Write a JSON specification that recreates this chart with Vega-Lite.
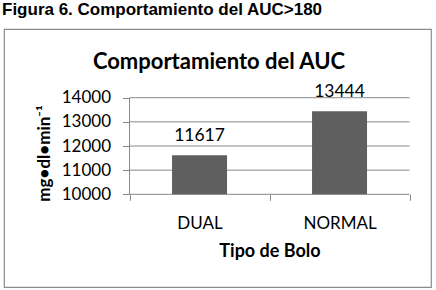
{
  "$schema": "https://vega.github.io/schema/vega-lite/v6.json",
  "width": 427,
  "height": 258,
  "autosize": {"type": "none"},
  "padding": {"left": 4, "top": 29, "right": 5, "bottom": 3},
  "background": "white",
  "title": {
    "text": "Figura 6. Comportamiento del AUC>180",
    "anchor": "start",
    "frame": "group",
    "font": "Liberation Sans",
    "fontSize": 17,
    "fontWeight": "bold",
    "color": "black",
    "baseline": "alphabetic",
    "offset": 0,
    "dy": 3,
    "dx": -2
  },
  "config": {
    "view": {"stroke": "#8c8c8c", "strokeWidth": 1.2},
    "font": "Lato"
  },
  "datasets": {
    "auc": [
      {"tipo": "DUAL", "auc": 11617},
      {"tipo": "NORMAL", "auc": 13444}
    ],
    "grid": [
      {"v": 10000}, {"v": 11000}, {"v": 12000}, {"v": 13000}, {"v": 14000}
    ]
  },
  "layer": [
    {
      "data": {"name": "grid"},
      "mark": {"type": "rule", "color": "#888888", "strokeWidth": 1},
      "encoding": {
        "y": {"field": "v", "type": "quantitative"},
        "x": {"datum": "DUAL", "type": "nominal", "bandPosition": 0, "axis": null},
        "x2": {"datum": "NORMAL", "bandPosition": 1}
      }
    },
    {
      "data": {"values": [{}]},
      "mark": {"type": "rule", "color": "#888888", "strokeWidth": 1},
      "encoding": {
        "x": {"datum": "DUAL", "type": "nominal", "bandPosition": 0, "axis": null},
        "y": {"datum": 10000, "type": "quantitative"},
        "y2": {"datum": 14000}
      }
    },
    {
      "data": {"name": "auc"},
      "mark": {"type": "bar", "color": "#5f5f5f", "size": 55},
      "encoding": {
        "x": {
          "field": "tipo",
          "type": "nominal",
          "scale": {"type": "band", "domain": ["DUAL", "NORMAL"], "paddingInner": 0, "paddingOuter": 0.525, "align": 0.854},
          "axis": {
            "orient": "bottom",
            "offset": -92.7,
            "tickBand": "extent",
            "domain": false,
            "ticks": true,
            "tickSize": 6,
            "tickColor": "#888888",
            "grid": false,
            "labelFont": "Lato",
            "labelFontSize": 17,
            "labelColor": "black",
            "labelPadding": 15,
            "labelAngle": 0,
            "title": "Tipo de Bolo",
            "titleFont": "Lato",
            "titleFontSize": 18,
            "titleFontWeight": "bold",
            "titleColor": "black",
            "titleX": 265.5,
            "titleY": 62,
            "titleBaseline": "alphabetic",
            "titleAlign": "center"
          }
        },
        "y": {
          "field": "auc",
          "type": "quantitative",
          "scale": {"domain": [6161.5, 16845], "nice": false, "zero": false},
          "axis": {
            "orient": "left",
            "offset": -125.5,
            "values": [10000, 11000, 12000, 13000, 14000],
            "format": "d",
            "domain": false,
            "grid": false,
            "ticks": true,
            "tickSize": 7,
            "tickColor": "#888888",
            "labels": true,
            "labelFont": "Lato",
            "labelFontSize": 17,
            "labelColor": "black",
            "labelPadding": 12,
            "title": "mg•dl•min⁻¹",
            "titleFont": "Lato",
            "titleFontSize": 17,
            "titleFontWeight": "bold",
            "titleColor": "black",
            "titleX": -85,
            "titleY": 124,
            "titleAngle": -90,
            "titleBaseline": "middle",
            "titleAlign": "center"
          }
        },
        "y2": {"datum": 10000}
      }
    },
    {
      "data": {"name": "auc"},
      "mark": {"type": "text", "dy": -14, "baseline": "alphabetic", "font": "Lato", "fontSize": 17.5, "color": "black"},
      "encoding": {
        "x": {
          "field": "tipo",
          "type": "nominal",
          "axis": {
            "orient": "top",
            "domain": false,
            "ticks": false,
            "labels": false,
            "grid": false,
            "title": "Comportamiento del AUC",
            "titleFont": "Lato",
            "titleFontSize": 22,
            "titleFontWeight": "bold",
            "titleColor": "black",
            "titleX": 214.5,
            "titleY": 39,
            "titleBaseline": "alphabetic",
            "titleAlign": "center"
          }
        },
        "y": {"field": "auc", "type": "quantitative"},
        "text": {"field": "auc", "type": "quantitative", "format": "d"}
      }
    }
  ],
  "resolve": {"axis": {"x": "independent"}}
}
